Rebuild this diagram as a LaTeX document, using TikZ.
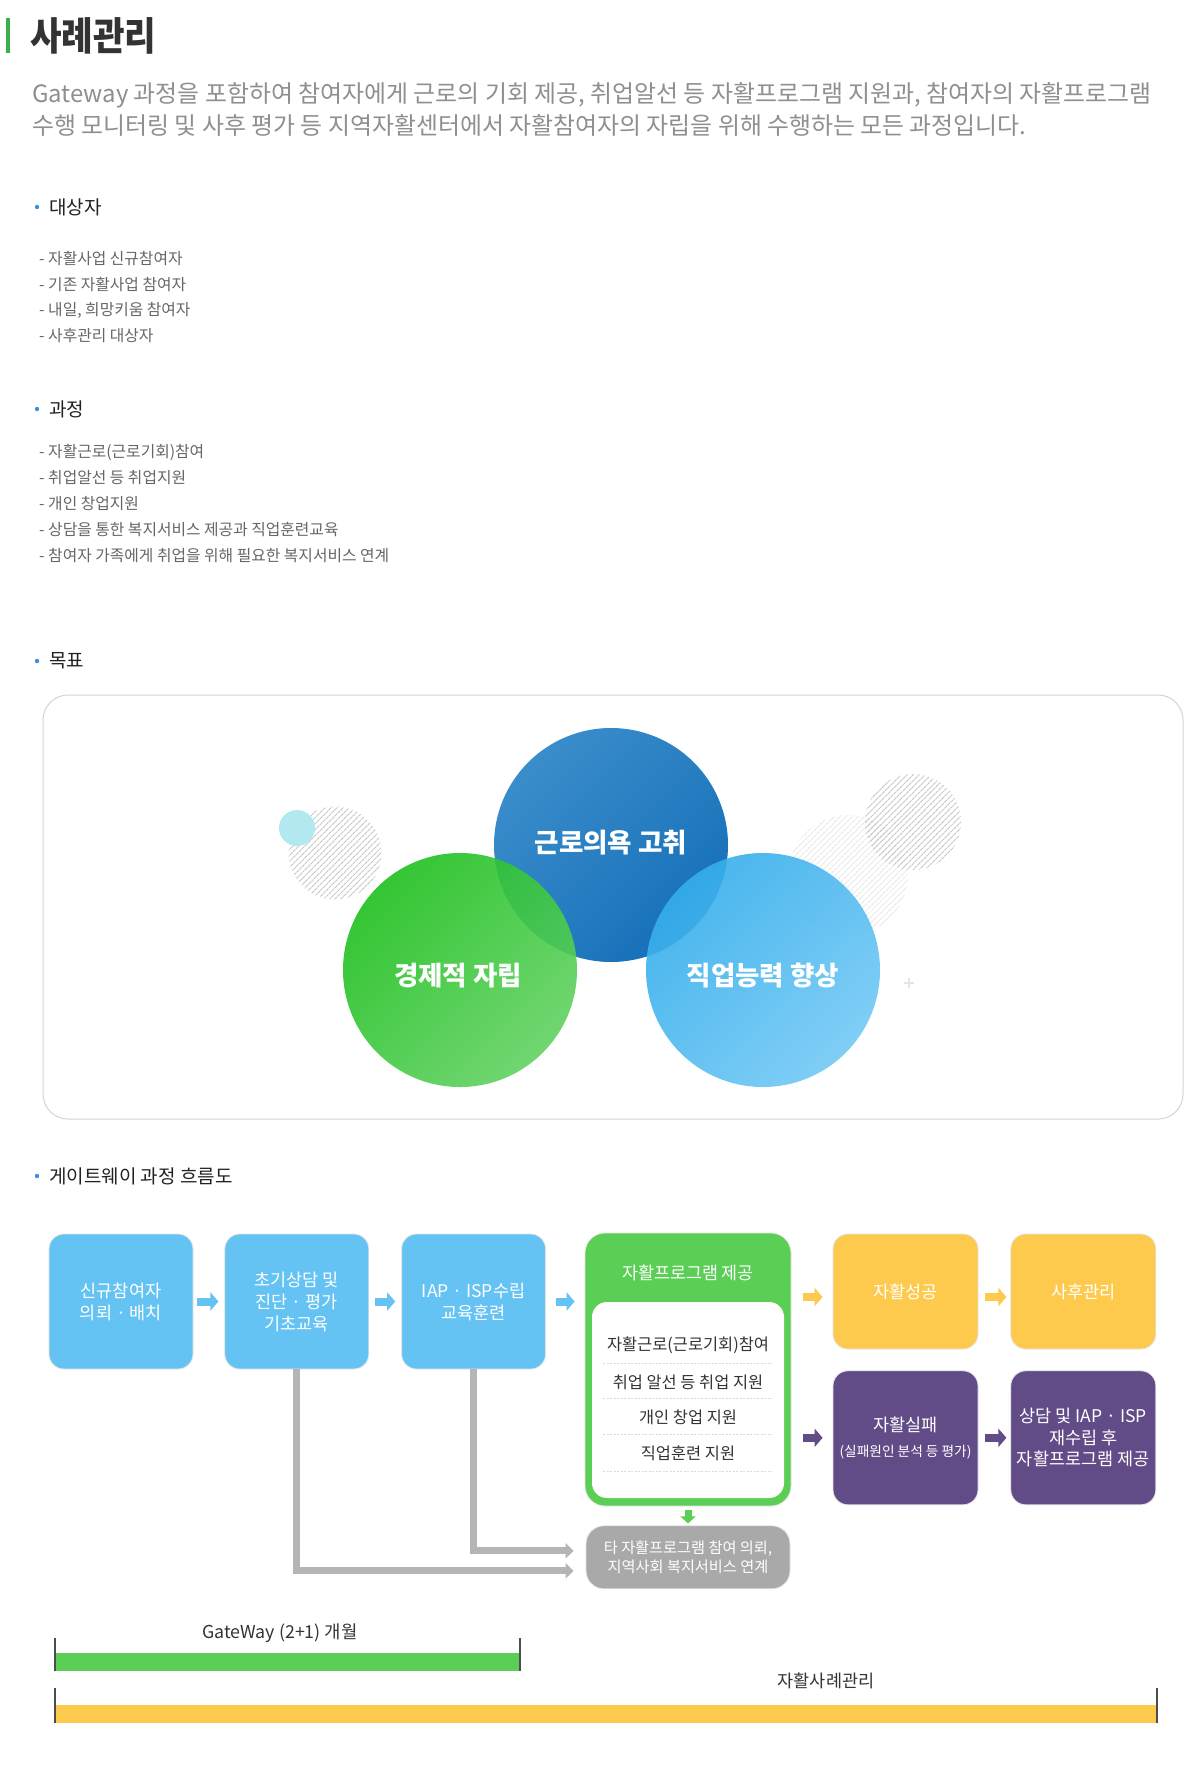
\documentclass[tikz,border=0pt]{standalone}
\usepackage{fontspec}
\setmainfont{Noto Sans CJK KR}
\usetikzlibrary{arrows.meta,positioning,patterns.meta}
\definecolor{skyb}{HTML}{65C3F4}
\definecolor{grn}{HTML}{5BCF55}
\definecolor{ylw}{HTML}{FDCA4E}
\definecolor{prp}{HTML}{624C88}
\definecolor{gry}{HTML}{A9A9A9}
\definecolor{lnk}{HTML}{B5B5B5}
\definecolor{dot}{HTML}{3A8EE0}
\definecolor{ttlbar}{HTML}{3DAE4E}
\definecolor{blobc}{HTML}{B2E8F0}
\tikzstyle{hd}=[anchor=west, inner sep=0pt, text=black!87, font=\fontsize{19}{22}\selectfont]
\tikzstyle{it}=[anchor=west, inner sep=0pt, text=black!60, font=\fontsize{15.8}{19}\selectfont]
\tikzstyle{bx}=[rounded corners=15pt, draw=black!10, line width=0.8pt, inner sep=0pt, align=center, text=white, font=\fontsize{17.5}{22}\selectfont]
\tikzstyle{bb}=[bx, fill=skyb, minimum width=144pt, minimum height=135pt]
\tikzstyle{yb}=[bx, fill=ylw, minimum width=145pt, minimum height=115pt]
\tikzstyle{pb}=[bx, fill=prp, minimum width=145pt, minimum height=134pt, font=\fontsize{17.5}{21.5}\selectfont]
\tikzstyle{li}=[inner sep=0pt, text=black!80, font=\fontsize{16.4}{19}\selectfont]
\tikzstyle{sep}=[draw=black!15, line width=0.8pt, dash pattern=on 2pt off 1.5pt]
\tikzstyle{blk}=[line width=8pt, -{Triangle[length=8pt,width=18pt]}]
\tikzstyle{gcon}=[draw=lnk, line width=7pt, -{Triangle[length=8pt,width=15pt]}, shorten >=12pt]
\tikzstyle{ring}=[circle, minimum size=234pt, inner sep=0pt]
\tikzstyle{ctext}=[inner sep=0pt, text=white, font=\fontsize{26.5}{30}\selectfont\bfseries]
\tikzstyle{hatch}=[circle, inner sep=0pt, pattern={Lines[angle=45,distance=4pt,line width=1.2pt]}]
\tikzstyle{tick}=[draw=black!70, line width=2pt]
\tikzstyle{bar}=[inner sep=0pt, text=black!80, font=\fontsize{17.5}{20}\selectfont]

\begin{document}
\begin{tikzpicture}[x=1pt, y=-1pt]
\useasboundingbox (0,0) rectangle (1200,1791);
\fill[white] (0,0) rectangle (1200,1791);

\fill[ttlbar] (6,18) rectangle (10,53);
\node[anchor=west, inner sep=0pt, text=black!80, font=\fontsize{39}{42}\selectfont\bfseries] (ttl) at (30,36) {\scalebox{0.88}[1]{사례관리}};
\node[anchor=west, inner sep=0pt, align=left, text=black!44, font=\fontsize{23.9}{32}\selectfont] (desc) at (32,109) {Gateway 과정을 포함하여 참여자에게 근로의 기회 제공, 취업알선 등 자활프로그램 지원과, 참여자의 자활프로그램\\수행 모니터링 및 사후 평가 등 지역자활센터에서 자활참여자의 자립을 위해 수행하는 모든 과정입니다.};

\fill[dot] (37,207) circle (2.2);
\node[hd] (h1) at (49,207) {대상자};
\node[it] (a1) at (39,259) {- 자활사업 신규참여자};
\node[it] (a2) at (39,285) {- 기존 자활사업 참여자};
\node[it] (a3) at (39,310) {- 내일, 희망키움 참여자};
\node[it] (a4) at (39,336) {- 사후관리 대상자};

\fill[dot] (37,409) circle (2.2);
\node[hd] (h2) at (49,409) {과정};
\node[it] (p1) at (39,452) {- 자활근로(근로기회)참여};
\node[it] (p2) at (39,478) {- 취업알선 등 취업지원};
\node[it] (p3) at (39,504) {- 개인 창업지원};
\node[it] (p4) at (39,530) {- 상담을 통한 복지서비스 제공과 직업훈련교육};
\node[it] (p5) at (39,556) {- 참여자 가족에게 취업을 위해 필요한 복지서비스 연계};

\fill[dot] (37,661) circle (2.2);
\node[hd] (h3) at (49,661) {목표};
\draw[black!17, line width=1pt, rounded corners=25pt] (43,695) rectangle (1183,1119);

\node[hatch, minimum size=93pt, pattern color=black!22] (hz1) at (335,853) {};
\node[hatch, minimum size=120pt, pattern color=black!9] (hz2) at (848,875) {};
\node[hatch, minimum size=96pt, pattern color=black!22] (hz3) at (913,822) {};
\node[circle, inner sep=0pt, minimum size=36pt, fill=blobc] (blob) at (297,828) {};
\draw[black!10, line width=1.5pt] (904,983) -- (914,983) (909,978) -- (909,988);

\node[ring, shade, top color={rgb,255:red,58;green,141;blue,203}, bottom color={rgb,255:red,22;green,112;blue,184}, shading angle=45] (c1) at (611,845) {};
\node[ring, shade, top color={rgb,255:red,30;green,192;blue,30}, bottom color={rgb,255:red,98;green,210;blue,98}, shading angle=45, fill opacity=0.9] (c2) at (460,970) {};
\node[ring, shade, top color={rgb,255:red,53;green,174;blue,236}, bottom color={rgb,255:red,114;green,201;blue,245}, shading angle=45, fill opacity=0.9] (c3) at (763,970) {};
\node[ctext] (t1) at (611,843) {근로의욕 고취};
\node[ctext] (t2) at (458,976) {경제적 자립};
\node[ctext] (t3) at (763,976) {직업능력 향상};

\fill[dot] (37,1176) circle (2.2);
\node[hd] (h4) at (49,1176) {게이트웨이 과정 흐름도};

\node[bb] (b1) at (121,1301.5) {신규참여자\\의뢰 · 배치};
\node[bb, right=31pt of b1] (b2) {초기상담 및\\진단 · 평가\\기초교육};
\node[bb, right=32pt of b2] (b3) {IAP · ISP수립\\교육훈련};
\node[bx, fill=grn, rounded corners=20pt, minimum width=206pt, minimum height=273pt] (gp) at (688,1369.5) {};
\node[rounded corners=15pt, fill=white, inner sep=0pt, minimum width=192pt, minimum height=196pt] (wb) at (688,1400) {};
\node[inner sep=0pt, text=white, font=\fontsize{17.4}{20}\selectfont] (gh) at (688,1273) {자활프로그램 제공};
\node[li] (i1) at (688,1345) {자활근로(근로기회)참여};
\node[li] (i2) at (688,1382) {취업 알선 등 취업 지원};
\node[li] (i3) at (688,1417) {개인 창업 지원};
\node[li] (i4) at (688,1453) {직업훈련 지원};
\foreach \y in {1363,1398,1434,1471}
  \draw[sep] (603,\y) -- (772,\y);
\node[yb] (s1) at (905.5,1291.5) {자활성공};
\node[yb, right=32pt of s1] (s2) {사후관리};
\node[pb, below=21pt of s1] (f1) {자활실패\\[3pt]{\fontsize{13.7}{16}\selectfont (실패원인 분석 등 평가)}};
\node[pb, right=32pt of f1] (f2) {상담 및 IAP · ISP\\재수립 후\\자활프로그램 제공};
\node[bx, fill=gry, rounded corners=18pt, minimum width=204pt, minimum height=63pt, font=\fontsize{15.2}{19}\selectfont, below=19pt of gp] (gx) {타 자활프로그램 참여 의뢰,\\지역사회 복지서비스 연계};

\coordinate (ya) at ([yshift=-5.5pt]s1.west);
\coordinate (yc) at ([yshift=-5.5pt]s2.west);
\coordinate (ga) at ([yshift=6.5pt]gx.west);
\coordinate (gb) at ([yshift=-13.5pt]gx.west);
\draw[blk, skyb, shorten <=4pt, shorten >=6pt] (b1) -- (b2);
\draw[blk, skyb, shorten <=6pt, shorten >=6pt] (b2) -- (b3);
\draw[blk, skyb, shorten <=10pt, shorten >=10pt] (b3.east) -- (b3.east -| gp.west);
\draw[blk, ylw, shorten <=12pt, shorten >=10pt] (gp.east |- ya) -- (ya);
\draw[blk, ylw, shorten <=7pt, shorten >=4pt] (s1.east |- yc) -- (yc);
\draw[blk, prp, shorten <=12pt, shorten >=10pt] (gp.east |- f1.west) -- (f1.west);
\draw[blk, prp, shorten <=7pt, shorten >=4pt] (f1) -- (f2);
\draw[grn, line width=7pt, -{Triangle[length=7pt,width=15pt]}, shorten <=4pt, shorten >=2pt] (gp.south) -- (gp.south |- gx.north);
\draw[gcon] (b3.south) |- (ga);
\draw[gcon] (b2.south) |- (gb);

\fill[grn] (55,1653) rectangle (520,1671);
\draw[tick] (55,1638) -- (55,1671);
\draw[tick] (520,1638) -- (520,1671);
\node[bar, font=\fontsize{17.8}{20}\selectfont] (gw) at (280,1633) {GateWay (2+1) 개월};
\fill[ylw] (55,1705) rectangle (1157,1723);
\draw[tick] (55,1688) -- (55,1723);
\draw[tick] (1157,1688) -- (1157,1723);
\node[bar] (jh) at (826,1681) {자활사례관리};
\end{tikzpicture}
\end{document}
